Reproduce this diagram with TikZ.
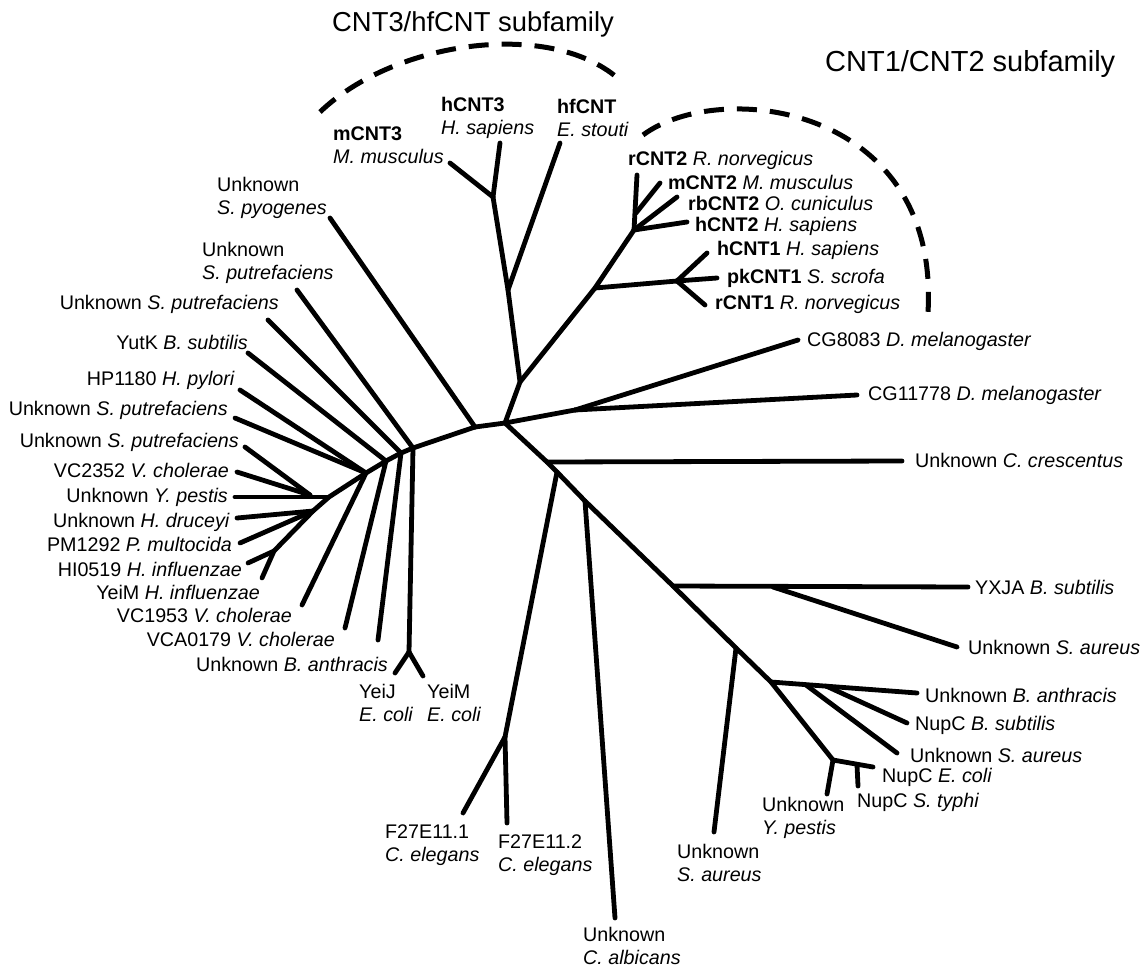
\documentclass[tikz,border=0pt]{standalone}
\usepackage{fontspec}
\setmainfont{Liberation Sans}
\begin{document}
\begin{tikzpicture}[x=1pt,y=-1pt,
  branch/.style={line width=4.8pt, line cap=round, line join=round},
  clade/.style={line width=5pt, dash pattern=on 20pt off 13pt},
  lbl/.style={inner sep=0pt, font=\fontsize{19.7}{23}\selectfont},
  lft/.style={lbl, anchor=east},
  rgt/.style={lbl, anchor=west},
  two/.style={lbl, align=left, anchor=west},
  ttl/.style={inner sep=0pt, anchor=base west}]
\useasboundingbox (0,0) rectangle (1145,969);

% ---- internal nodes ----
\coordinate (N1) at (475,427);  \coordinate (N2) at (505,423);
\coordinate (J1) at (413,448);  \coordinate (J2) at (401,453);
\coordinate (J3) at (386,461);  \coordinate (J4) at (366,473);
\coordinate (K1) at (310,495);  \coordinate (K2) at (329,497);
\coordinate (L2) at (313,511);  \coordinate (L1) at (274,551);
\coordinate (Y)  at (409,652);
\coordinate (D1) at (547,462);  \coordinate (D2) at (557,472);
\coordinate (D3) at (585,501);  \coordinate (D4) at (673,586);
\coordinate (D5) at (736,648);  \coordinate (D6) at (771,682);
\coordinate (G)  at (833,760);  \coordinate (H)  at (857,765);
\coordinate (F)  at (505,737);
\coordinate (E1) at (773,587);  \coordinate (E2) at (806,685);
\coordinate (E3) at (826,686);
\coordinate (U1) at (520,382);  \coordinate (U2) at (508,290);
\coordinate (U3) at (595,288);  \coordinate (U4) at (634,230);
\coordinate (V2) at (636,213);  \coordinate (M3) at (493,197);
\coordinate (C1) at (677,281);  \coordinate (DM) at (575,410);

% ---- leaf tips ----
\coordinate (tPyo) at (330,218);
\coordinate (tSp1) at (297,290);  \coordinate (tSp2) at (268,320);
\coordinate (tYut) at (248,353);  \coordinate (tHp)  at (240,390);
\coordinate (tSp3) at (235,418);  \coordinate (tSp4) at (245,447);
\coordinate (tVc2) at (237,472);  \coordinate (tYpe) at (235,497);
\coordinate (tDru) at (237,518);  \coordinate (tPm)  at (240,543);
\coordinate (tHi)  at (248,563);  \coordinate (tYmH) at (262,578);
\coordinate (tVc1) at (302,605);  \coordinate (tVca) at (345,628);
\coordinate (tBa1) at (378,640);
\coordinate (tYJ)  at (395,673);  \coordinate (tYM)  at (423,676);
\coordinate (tF1)  at (463,813);  \coordinate (tF2)  at (507,823);
\coordinate (tAlb) at (615,918);
\coordinate (tCre) at (902,461);
\coordinate (tYx)  at (968,587);  \coordinate (tSa1) at (957,647);
\coordinate (tSa2) at (714,832);
\coordinate (tBa2) at (917,693);  \coordinate (tNbs) at (907,723);
\coordinate (tSa3) at (897,753);
\coordinate (tYp2) at (827,794);  \coordinate (tEco) at (873,767);
\coordinate (tSty) at (858,786);
\coordinate (tM3)  at (450,163);  \coordinate (tH3)  at (500,143);
\coordinate (tHf)  at (560,143);
\coordinate (tH1)  at (707,253);  \coordinate (tPk1) at (717,278);
\coordinate (tR1)  at (705,305);
\coordinate (tR2)  at (637,175);  \coordinate (tM2)  at (660,183);
\coordinate (tRb2) at (677,197);  \coordinate (tH2)  at (687,222);
\coordinate (tCg8) at (798,340);  \coordinate (tCg1) at (857,395);

% ---- branches ----
\draw[branch] (N1) -- (N2);
\draw[branch] (N1) -- (tPyo);
\draw[branch] (N1) -- (J1) -- (J2) -- (J3) -- (J4) -- (K2) -- (L2) -- (L1);
\draw[branch] (J1) -- (tSp1);
\draw[branch] (J1) -- (Y);
\draw[branch] (Y) -- (tYJ);  \draw[branch] (Y) -- (tYM);
\draw[branch] (J2) -- (tSp2);
\draw[branch] (J2) -- (tBa1);
\draw[branch] (J3) -- (tYut);
\draw[branch] (J3) -- (tVca);
\draw[branch] (J4) -- (tHp);
\draw[branch] (J4) -- (tSp3);
\draw[branch] (J4) -- (tVc1);
\draw[branch] (K2) -- (tYpe);
\draw[branch] (K1) -- (tSp4);
\draw[branch] (K1) -- (tVc2);
\draw[branch] (L2) -- (tDru);
\draw[branch] (L2) -- (tPm);
\draw[branch] (L1) -- (tHi);
\draw[branch] (L1) -- (tYmH);

\draw[branch] (N2) -- (D1) -- (D2) -- (D3) -- (D4) -- (D5) -- (D6) -- (G);
\draw[branch] (D1) -- (tCre);
\draw[branch] (D2) -- (F);
\draw[branch] (F) -- (tF1);  \draw[branch] (F) -- (tF2);
\draw[branch] (D3) -- (tAlb);
\draw[branch] (D4) -- (tYx);
\draw[branch] (E1) -- (tSa1);
\draw[branch] (D5) -- (tSa2);
\draw[branch] (D6) -- (tBa2);
\draw[branch] (E2) -- (tSa3);
\draw[branch] (E3) -- (tNbs);
\draw[branch] (G) -- (tYp2);
\draw[branch] (G) -- (tEco);
\draw[branch] (H) -- (tSty);

\draw[branch] (N2) -- (U1) -- (U2) -- (M3);
\draw[branch] (M3) -- (tM3);  \draw[branch] (M3) -- (tH3);
\draw[branch] (U2) -- (tHf);
\draw[branch] (U1) -- (U3) -- (U4);
\draw[branch] (U3) -- (C1);
\draw[branch] (C1) -- (tH1);  \draw[branch] (C1) -- (tPk1);
\draw[branch] (C1) -- (tR1);
\draw[branch] (U4) -- (tR2);  \draw[branch] (V2) -- (tM2);
\draw[branch] (U4) -- (tRb2); \draw[branch] (U4) -- (tH2);
\draw[branch] (N2) -- (DM);
\draw[branch] (DM) -- (tCg8);
\draw[branch] (DM) -- (tCg1);

% ---- subfamily brackets ----
\coordinate (a1) at (320,112);  \coordinate (a2) at (622,82);
\coordinate (b1) at (643,135);  \coordinate (b2) at (928,312);
\draw[clade] (a1) .. controls (395,40) and (555,18) .. (a2);
\draw[clade] (b1) .. controls (720,78) and (940,105) .. (b2);
\node[ttl, font=\fontsize{27.4}{32}\selectfont] (t3) at (332,31) {CNT3/hfCNT subfamily};
\node[ttl, font=\fontsize{29}{34}\selectfont] (t12) at (825,71) {CNT1/CNT2 subfamily};

% ---- labels, left cluster ----
\node[two] (lPyo) at (217,198) {Unknown\\\textit{S. pyogenes}};
\node[two] (lSp1) at (202,263) {Unknown\\\textit{S. putrefaciens}};
\node[lft] (lSp2) at (279,304) {Unknown \textit{S. putrefaciens}};
\node[lft] (lYut) at (248,342) {YutK \textit{B. subtilis}};
\node[lft] (lHp)  at (235,380) {HP1180 \textit{H. pylori}};
\node[lft] (lSp3) at (228,410) {Unknown \textit{S. putrefaciens}};
\node[lft] (lSp4) at (239,442) {Unknown \textit{S. putrefaciens}};
\node[lft] (lVc2) at (229,470) {VC2352 \textit{V. cholerae}};
\node[lft] (lYpe) at (228,497) {Unknown \textit{Y. pestis}};
\node[lft] (lDru) at (230,522) {Unknown \textit{H. druceyi}};
\node[lft] (lPm)  at (232,544) {PM1292 \textit{P. multocida}};
\node[lft] (lHi)  at (242,569) {HI0519 \textit{H. influenzae}};
\node[lft] (lYmH) at (260,592) {YeiM \textit{H. influenzae}};
\node[lft] (lVc1) at (292,615) {VC1953 \textit{V. cholerae}};
\node[lft] (lVca) at (335,639) {VCA0179 \textit{V. cholerae}};
\node[lft] (lBa1) at (388,664) {Unknown \textit{B. anthracis}};
\node[two] (lYJ)  at (359,703) {YeiJ\\\textit{E. coli}};
\node[two] (lYM)  at (427,703) {YeiM\\\textit{E. coli}};

% ---- labels, bottom ----
\node[two] (lF1)  at (385,845) {F27E11.1\\\textit{C. elegans}};
\node[two] (lF2)  at (498,855) {F27E11.2\\\textit{C. elegans}};
\node[two] (lAlb) at (583,946) {Unknown\\\textit{C. albicans}};
\node[two] (lSa2) at (677,863) {Unknown\\\textit{S. aureus}};
\node[two] (lYp2) at (762,818) {Unknown\\\textit{Y. pestis}};

% ---- labels, right ----
\node[rgt] (lCre) at (915,460) {Unknown \textit{C. crescentus}};
\node[rgt] (lYx)  at (975,587) {YXJA \textit{B. subtilis}};
\node[rgt] (lSa1) at (968,647) {Unknown \textit{S. aureus}};
\node[rgt] (lBa2) at (925,695) {Unknown \textit{B. anthracis}};
\node[rgt] (lNbs) at (915,725) {NupC \textit{B. subtilis}};
\node[rgt] (lSa3) at (910,755) {Unknown \textit{S. aureus}};
\node[rgt] (lEco) at (882,777) {NupC \textit{E. coli}};
\node[rgt] (lSty) at (857,802) {NupC \textit{S. typhi}};
\node[rgt] (lCg1) at (868,395) {CG11778 \textit{D. melanogaster}};
\node[rgt] (lCg8) at (807,341) {CG8083 \textit{D. melanogaster}};

% ---- labels, CNT subfamilies ----
\node[rgt] (lR2)  at (628,160) {\textbf{rCNT2} \textit{R. norvegicus}};
\node[rgt] (lM2)  at (668,182) {\textbf{mCNT2} \textit{M. musculus}};
\node[rgt] (lRb2) at (688,203) {\textbf{rbCNT2} \textit{O. cuniculus}};
\node[rgt] (lH2)  at (695,226) {\textbf{hCNT2} \textit{H. sapiens}};
\node[rgt] (lH1)  at (717,250) {\textbf{hCNT1} \textit{H. sapiens}};
\node[rgt] (lPk1) at (727,278) {\textbf{pkCNT1} \textit{S. scrofa}};
\node[rgt] (lR1)  at (715,304) {\textbf{rCNT1} \textit{R. norvegicus}};
\node[two] (lM3)  at (333,145) {\textbf{mCNT3}\\\textit{M. musculus}};
\node[two] (lH3)  at (441,118) {\textbf{hCNT3}\\\textit{H. sapiens}};
\node[two] (lHf)  at (557,118) {\textbf{hfCNT}\\\textit{E. stouti}};
\end{tikzpicture}
\end{document}
